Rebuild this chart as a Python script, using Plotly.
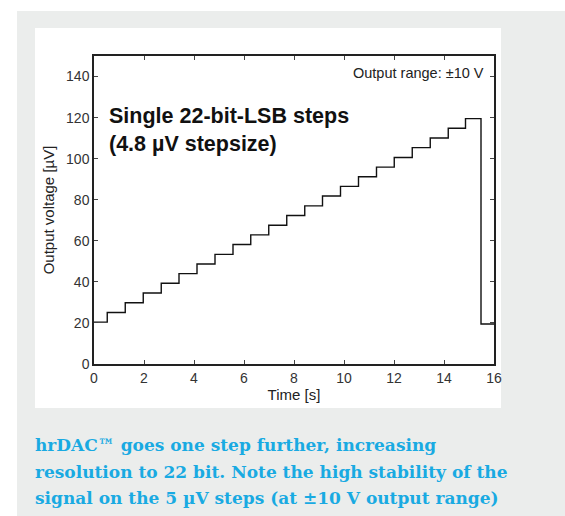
import plotly.graph_objects as go

# ---- data ----
step_times = [0.53, 1.25, 1.97, 2.69, 3.40, 4.12, 4.84, 5.56, 6.27, 6.99, 7.71,
              8.43, 9.14, 9.86, 10.58, 11.30, 12.01, 12.73, 13.45, 14.17, 14.86]
levels = [20.4, 25.1, 29.8, 34.6, 39.3, 44.0, 48.7, 53.4, 58.2, 62.9, 67.6,
          72.3, 77.0, 81.8, 86.5, 91.2, 95.9, 100.6, 105.4, 110.1, 114.8, 119.5]
drop_time = 15.48
reset_level = 19.5
end_time = 16
x_ticks = [0, 2, 4, 6, 8, 10, 12, 14, 16]
y_ticks = [0, 20, 40, 60, 80, 100, 120, 140]

caption_lines = [
    "hrDAC\u2122 goes one step further, increasing",
    "resolution to 22 bit. Note the high stability of the",
    "signal on the 5 \u00b5V steps (at \u00b110 V output range)",
]

xs = [0] + step_times + [drop_time, end_time]
ys = levels + [reset_level, reset_level]

W, H = 565, 516
L, R, T, B = 94, 494, 56, 364  # plot area pixels
pw, ph = R - L, B - T

def px(x):
    return (x - L) / pw

def py(y):
    return (B - y) / ph

fig = go.Figure()
fig.add_trace(go.Scatter(x=xs, y=ys, mode="lines", line_shape="hv",
                         line=dict(color="#111111", width=1.4),
                         hoverinfo="skip", showlegend=False))

font_sans = "Liberation Sans, Arial, sans-serif"
axis_common = dict(showline=True, linecolor="#222222", linewidth=1.5, mirror="ticks",
                   ticks="inside", ticklen=4, tickwidth=1, tickcolor="#444444",
                   showgrid=False, zeroline=False,
                   tickfont=dict(family=font_sans, size=14, color="#333333"))

fig.update_layout(
    width=W, height=H,
    margin=dict(l=L, r=W - R, t=T, b=H - B, pad=0),
    paper_bgcolor="white", plot_bgcolor="white",
    xaxis=dict(range=[0, 16], tickvals=x_ticks, ticktext=[str(v) for v in x_ticks],
               title=dict(text="Time [s]", font=dict(family=font_sans, size=15, color="#222222"), standoff=2),
               **axis_common),
    yaxis=dict(range=[0, 150], tickvals=y_ticks, ticktext=[str(v) for v in y_ticks],
               title=dict(text="Output voltage [\u00b5V]", font=dict(family=font_sans, size=15, color="#222222"), standoff=8),
               **axis_common),
    shapes=[
        dict(type="rect", xref="paper", yref="paper", layer="below",
             x0=px(17), x1=px(565), y0=py(516), y1=py(11),
             fillcolor="#ebedec", line=dict(width=0)),
        dict(type="rect", xref="paper", yref="paper", layer="below",
             x0=px(35), x1=px(501), y0=py(408), y1=py(28),
             fillcolor="white", line=dict(width=0)),
    ],
)

fig.add_annotation(x=0.5, y=114, xref="x", yref="y", xanchor="left", yanchor="middle",
                   text="<b>Single 22-bit-LSB steps<br>(4.8 \u00b5V stepsize)</b>", align="left",
                   showarrow=False, font=dict(family=font_sans, size=21.5, color="#111111"))
fig.add_annotation(x=15.68, y=141.5, xref="x", yref="y", xanchor="right", yanchor="middle",
                   text="Output range: \u00b110 V", showarrow=False,
                   font=dict(family=font_sans, size=14.5, color="#222222"))

for i, line in enumerate(caption_lines):
    fig.add_annotation(x=px(33), y=py(445 + 26.5 * i), xref="paper", yref="paper",
                       xanchor="left", yanchor="middle", text="<b>" + line + "</b>",
                       showarrow=False,
                       font=dict(family="DejaVu Serif, serif", size=17, color="#19aae2"))

fig.write_html("out.html", config={"displayModeBar": False},
               post_script="document.body.style.margin='0px';")
